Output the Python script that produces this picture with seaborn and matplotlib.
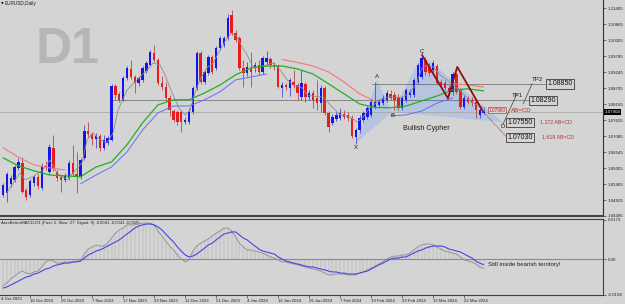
import numpy as np
import matplotlib
matplotlib.use("Agg")
import matplotlib.pyplot as plt
import seaborn as sns
from matplotlib.transforms import blended_transform_factory as btf

# ---------------- data (EURUSD daily) ----------------
opens = [1.0510,1.0517,1.0547,1.0561,1.0601,1.0618,1.0527,1.0510,1.0550,1.0571,
         1.0534,1.0608,1.0588,1.0669,1.0588,1.0571,1.0561,1.0567,1.0618,1.0581,
         1.0571,1.0635,1.0726,1.0716,1.0699,1.0709,1.0669,1.0685,1.0696,1.0878,
         1.0851,1.0831,1.0905,1.0935,1.0908,1.0888,1.0898,1.0928,1.0949,1.0989,
         1.0966,1.0888,1.0874,1.0837,1.0793,1.0790,1.0790,1.0756,1.0756,1.0790,
         1.0871,1.0989,1.0891,1.0922,1.0976,1.0939,1.1006,1.1016,1.1040,1.1117,
         1.1057,1.1040,1.0939,1.0922,1.0935,1.0939,1.0949,1.0925,1.0959,1.0969,
         1.0949,1.0945,1.0871,1.0881,1.0871,1.0891,1.0881,1.0841,1.0885,1.0841,
         1.0854,1.0837,1.0820,1.0871,1.0787,1.0753,1.0766,1.0770,1.0783,1.0780,
         1.0770,1.0706,1.0729,1.0763,1.0773,1.0780,1.0807,1.0814,1.0820,1.0831,
         1.0851,1.0847,1.0841,1.0804,1.0831,1.0847,1.0847,1.0891,1.0908,1.0966,
         1.0942,1.0932,1.0945,1.0891,1.0888,1.0871,1.0858,1.0918,1.0864,1.0807,
         1.0837,1.0831,1.0824,1.0780,1.0787]
highs = [1.0550,1.0588,1.0577,1.0611,1.0635,1.0638,1.0534,1.0564,1.0577,1.0581,
         1.0618,1.0625,1.0682,1.0712,1.0594,1.0577,1.0584,1.0628,1.0679,1.0655,
         1.0635,1.0746,1.0756,1.0722,1.0719,1.0716,1.0712,1.0709,1.0885,1.0885,
         1.0858,1.0912,1.0945,1.0966,1.0915,1.0912,1.0945,1.0962,1.0999,1.1016,
         1.0972,1.0912,1.0891,1.0847,1.0800,1.0797,1.0797,1.0773,1.0804,1.0878,
         1.0996,1.0996,1.0932,1.0982,1.0982,1.1013,1.1047,1.1047,1.1121,1.1134,
         1.1067,1.1047,1.0966,1.0959,1.0993,1.0959,1.0966,1.0979,1.0996,1.0976,
         1.0959,1.0952,1.0891,1.0888,1.0905,1.0932,1.0888,1.0932,1.0891,1.0864,
         1.0864,1.0898,1.0881,1.0878,1.0793,1.0783,1.0790,1.0804,1.0797,1.0790,
         1.0780,1.0736,1.0780,1.0793,1.0810,1.0831,1.0891,1.0834,1.0847,1.0864,
         1.0864,1.0858,1.0851,1.0844,1.0871,1.0868,1.0905,1.0955,1.0993,1.0976,
         1.0955,1.0966,1.0952,1.0901,1.0898,1.0881,1.0925,1.0925,1.0871,1.0847,
         1.0844,1.0841,1.0831,1.0804,1.0804]
lows = [1.0503,1.0486,1.0537,1.0554,1.0594,1.0517,1.0493,1.0503,1.0540,1.0530,
        1.0527,1.0594,1.0581,1.0591,1.0557,1.0520,1.0554,1.0561,1.0574,1.0517,
        1.0564,1.0628,1.0706,1.0679,1.0669,1.0658,1.0662,1.0679,1.0692,1.0834,
        1.0824,1.0827,1.0898,1.0901,1.0854,1.0878,1.0891,1.0922,1.0945,1.0959,
        1.0881,1.0864,1.0831,1.0777,1.0756,1.0746,1.0722,1.0750,1.0750,1.0783,
        1.0864,1.0885,1.0885,1.0915,1.0918,1.0932,1.0999,1.1009,1.1033,1.1050,
        1.1026,1.0932,1.0874,1.0912,1.0874,1.0925,1.0915,1.0918,1.0949,1.0939,
        1.0932,1.0871,1.0841,1.0864,1.0844,1.0871,1.0831,1.0831,1.0824,1.0831,
        1.0804,1.0797,1.0790,1.0780,1.0722,1.0746,1.0760,1.0763,1.0766,1.0760,
        1.0702,1.0682,1.0719,1.0756,1.0766,1.0773,1.0800,1.0807,1.0814,1.0824,
        1.0831,1.0797,1.0797,1.0797,1.0824,1.0841,1.0841,1.0885,1.0901,1.0915,
        1.0912,1.0922,1.0881,1.0871,1.0864,1.0847,1.0847,1.0851,1.0800,1.0800,
        1.0817,1.0810,1.0770,1.0770,1.0783]
closes = [1.0544,1.0581,1.0567,1.0604,1.0621,1.0520,1.0503,1.0557,1.0571,1.0540,
          1.0608,1.0604,1.0672,1.0598,1.0567,1.0561,1.0574,1.0618,1.0581,1.0574,
          1.0628,1.0726,1.0716,1.0699,1.0709,1.0669,1.0696,1.0702,1.0878,1.0847,
          1.0831,1.0905,1.0939,1.0908,1.0888,1.0905,1.0939,1.0955,1.0993,1.0966,
          1.0888,1.0874,1.0837,1.0797,1.0763,1.0756,1.0756,1.0763,1.0790,1.0871,
          1.0989,1.0891,1.0925,1.0976,1.0925,1.1006,1.1040,1.1040,1.1107,1.1057,
          1.1033,1.0939,1.0922,1.0942,1.0925,1.0949,1.0925,1.0972,1.0972,1.0949,
          1.0945,1.0874,1.0881,1.0874,1.0898,1.0881,1.0854,1.0888,1.0841,1.0854,
          1.0831,1.0820,1.0871,1.0787,1.0739,1.0773,1.0780,1.0787,1.0773,1.0770,
          1.0709,1.0729,1.0770,1.0787,1.0804,1.0824,1.0824,1.0824,1.0837,1.0854,
          1.0837,1.0831,1.0804,1.0837,1.0864,1.0858,1.0898,1.0949,1.0972,1.0925,
          1.0922,1.0955,1.0888,1.0881,1.0871,1.0858,1.0918,1.0858,1.0807,1.0837,
          1.0824,1.0820,1.0797,1.0797,1.0790]

# moving averages
gray_ma_idx = [1.0,4.4,5.7,7.7,10.3,12.1,13.9,16.5,20.4,21.7,23.2,25.0,26.8,28.4,29.7,
               32.0,34.6,37.2,38.7,40.5,41.8,43.1,44.4,45.7,47.0,48.3,49.5,50.8,52.6,54.2,
               56.0,57.8,59.1,60.4,61.7,63.0,64.5,66.3,68.1,69.7,71.5,73.3,74.8,77.2,78.5,
               81.0,82.6,84.9,87.0,89.5,91.4,92.9,94.7,97.3,99.9,102.5,105.0,106.8,108.1,
               109.4,111.0,112.8,114.6,116.1,117.9,119.7,121.3,123.1,124.4]
gray_ma = [1.0517,1.0584,1.0561,1.0571,1.0594,1.0628,1.0584,1.0561,1.0618,1.0696,
           1.0719,1.0696,1.0685,1.0719,1.0797,1.0864,1.0898,1.0932,1.0955,1.0949,
           1.0915,1.0871,1.0831,1.0797,1.0780,1.0797,1.0854,1.0898,1.0939,1.0955,
           1.0999,1.1040,1.1057,1.1043,1.1009,1.0982,1.0942,1.0942,1.0949,1.0955,
           1.0932,1.0898,1.0881,1.0871,1.0847,1.0841,1.0841,1.0807,1.0780,1.0773,
           1.0756,1.0773,1.0804,1.0831,1.0841,1.0837,1.0854,1.0891,1.0939,1.0949,
           1.0942,1.0915,1.0898,1.0881,1.0864,1.0837,1.0820,1.0807,1.0804]
ma_idx = list(range(0, 125, 4))
nan = float("nan")
green_ma = [1.0635,1.0608,1.0591,1.0577,1.0574,1.0571,1.0604,1.0621,1.0679,1.0753,
            1.0814,1.0831,1.0831,1.0854,1.0881,1.0915,1.0939,1.0945,1.0945,1.0935,
            1.0918,1.0885,1.0851,1.0817,1.0805,1.0804,1.0810,1.0827,1.0844,1.0864,
            1.0868,1.0861]
red_ma = [1.0669,1.0637,1.0611,1.0601,1.0594,nan,nan,nan,nan,nan,
          nan,nan,nan,nan,nan,nan,nan,nan,1.0967,1.0957,
          1.0945,1.0925,1.0891,1.0851,1.0827,nan,nan,nan,nan,1.0885,
          1.0881,1.0874]
blue_ma = [nan,nan,nan,nan,nan,1.0547,1.0577,1.0604,1.0655,1.0729,
           1.0787,1.0810,1.0810,1.0831,1.0858,1.0898,1.0908,1.0918,nan,nan,
           nan,nan,nan,nan,nan,1.0777,1.0780,1.0793,1.0820,1.0837,
           nan,nan]

# MACD (per bar)
macd_main = [-0.0119,-0.0106,-0.0088,-0.0075,-0.0062,-0.0053,-0.0062,-0.0066,-0.0057,-0.0053,
             -0.0035,-0.0013,-0.0004,-0.0009,-0.0018,-0.0018,-0.0013,-0.0013,-0.0013,-0.0009,
             -0.0009,0.0022,0.0044,0.0053,0.0062,0.0057,0.0057,0.0070,0.0092,0.0114,
             0.0128,0.0136,0.0150,0.0150,0.0150,0.0154,0.0158,0.0158,0.0158,0.0150,
             0.0123,0.0101,0.0079,0.0057,0.0040,0.0018,0.0000,-0.0013,-0.0004,0.0035,
             0.0057,0.0070,0.0079,0.0088,0.0101,0.0114,0.0123,0.0136,0.0136,0.0123,
             0.0097,0.0070,0.0053,0.0040,0.0040,0.0035,0.0031,0.0026,0.0018,0.0009,
             0.0004,-0.0004,-0.0013,-0.0013,-0.0018,-0.0022,-0.0026,-0.0031,-0.0035,-0.0040,
             -0.0044,-0.0048,-0.0053,-0.0062,-0.0070,-0.0070,-0.0066,-0.0066,-0.0066,-0.0070,
             -0.0070,-0.0070,-0.0062,-0.0057,-0.0048,-0.0040,-0.0031,-0.0022,-0.0013,0.0000,
             0.0009,0.0013,0.0013,0.0018,0.0018,0.0026,0.0040,0.0053,0.0062,0.0066,
             0.0066,0.0062,0.0053,0.0044,0.0035,0.0031,0.0026,0.0022,0.0009,-0.0004,
             -0.0009,-0.0013,-0.0022,-0.0036,-0.0041]
macd_signal = [-0.0128,-0.0123,-0.0114,-0.0106,-0.0097,-0.0088,-0.0079,-0.0075,-0.0066,-0.0062,
               -0.0053,-0.0044,-0.0040,-0.0031,-0.0026,-0.0022,-0.0018,-0.0018,-0.0013,-0.0013,
               -0.0009,0.0004,0.0018,0.0026,0.0035,0.0040,0.0048,0.0057,0.0066,0.0075,
               0.0084,0.0097,0.0110,0.0123,0.0136,0.0145,0.0150,0.0154,0.0154,0.0150,
               0.0141,0.0128,0.0110,0.0092,0.0075,0.0053,0.0035,0.0018,0.0009,0.0013,
               0.0022,0.0035,0.0048,0.0062,0.0070,0.0084,0.0097,0.0110,0.0114,0.0119,
               0.0119,0.0106,0.0092,0.0084,0.0070,0.0057,0.0044,0.0035,0.0031,0.0026,
               0.0022,0.0009,0.0000,-0.0009,-0.0013,-0.0018,-0.0022,-0.0026,-0.0031,-0.0035,
               -0.0035,-0.0040,-0.0044,-0.0048,-0.0053,-0.0057,-0.0057,-0.0062,-0.0062,-0.0066,
               -0.0066,-0.0066,-0.0062,-0.0057,-0.0053,-0.0044,-0.0035,-0.0026,-0.0018,-0.0009,
               0.0000,0.0004,0.0004,0.0009,0.0009,0.0018,0.0026,0.0035,0.0040,0.0048,
               0.0053,0.0057,0.0057,0.0057,0.0053,0.0044,0.0040,0.0035,0.0031,0.0022,
               0.0013,0.0004,-0.0009,-0.0018,-0.0025]

# Cypher pattern & targets
cypher_names = ["X", "A", "B", "C", "D"]
cypher_idx = [91.1, 96.5, 100.4, 108.1, 129.0]
cypher_px = [1.0685, 1.0898, 1.0790, 1.0982, 1.0755]
zigzag_idx = [108.1, 114.8, 117.2, 123.9]
zigzag_px = [1.0982, 1.0836, 1.0942, 1.0790]
zz_dot_idx = [123.9, 130.1]
zz_dot_px = [1.0790, 1.0703]
tp_levels = [1.0829, 1.0885]
tp_level_from = [28.4, 95.2]
tp_level_to = [136.0, 140.4]
tp1_line_idx = [129.0, 132.6]
tp1_line_px = [1.0749, 1.0851]
tp2_line_idx = [134.2, 136.5]
tp2_line_px = [1.0817, 1.0885]
current_price = 1.0790

price_ticks = [1.11405, 1.10865, 1.10325, 1.09785, 1.09245, 1.08705, 1.08165,
               1.07625, 1.07085, 1.06545, 1.06005, 1.05465, 1.04925, 1.04385]
date_idx = [7, 15, 23, 31, 39, 47, 55, 63, 71, 79, 87, 95, 103, 111, 119]
date_labels = ["16 Oct 2023", "26 Oct 2023", "7 Nov 2023", "17 Nov 2023", "29 Nov 2023",
               "11 Dec 2023", "21 Dec 2023", "4 Jan 2024", "16 Jan 2024", "26 Jan 2024",
               "7 Feb 2024", "19 Feb 2024", "29 Feb 2024", "12 Mar 2024", "22 Mar 2024"]

# ---------------- drawing ----------------
BG = "#d4d4d4"
sns.set_style("white")
plt.rcParams["font.family"] = ["Liberation Sans", "DejaVu Sans"]

fig = plt.figure(figsize=(6.25, 3.04), dpi=100, facecolor=BG)
ax = fig.add_axes([0, 0.2895, 0.9648, 0.7105], facecolor=BG)
ax2 = fig.add_axes([0, 0.0296, 0.9648, 0.2500], facecolor=BG)

XL = (-0.77, 154.8)


def seg_plot(a, xs, ys, **kw):
    xs = np.asarray(xs, float)
    ys = np.asarray(ys, float)
    ok = ~np.isnan(ys)
    cuts = np.where(np.diff(ok.astype(int)) != 0)[0] + 1
    for r in np.split(np.arange(len(ys)), cuts):
        if ok[r[0]] and len(r) > 1:
            sns.lineplot(x=xs[r], y=ys[r], ax=a, estimator=None, sort=False,
                         legend=False, **kw)


o = np.array(opens); h = np.array(highs); l = np.array(lows); c = np.array(closes)
idx = np.arange(len(o))
bull = c >= o
body = np.maximum(np.abs(c - o), 0.00012)
bottom = np.minimum(o, c)

# pattern shading
ax.fill(cypher_idx[:3], cypher_px[:3], color="#a8c0e4", alpha=0.7, lw=0, zorder=1)
ax.fill(cypher_idx[2:], cypher_px[2:], color="#a8c0e4", alpha=0.7, lw=0, zorder=1)

# current price line and target levels
ax.axhline(current_price, color="#a9a9a9", lw=0.6, zorder=1)
for lev, a0, a1 in zip(tp_levels, tp_level_from, tp_level_to):
    ax.hlines(lev, a0, a1, colors="#202020", linestyles=(0, (1.2, 1.2)), lw=0.6, zorder=2)

# candles
ax.vlines(idx[bull], l[bull], h[bull], color="#4a4ad0", lw=0.6, zorder=3)
ax.vlines(idx[~bull], l[~bull], h[~bull], color="#b84848", lw=0.6, zorder=3)
ax.bar(idx[bull], body[bull], bottom=bottom[bull], width=0.62, color="#1414ee", lw=0, zorder=4)
ax.bar(idx[~bull], body[~bull], bottom=bottom[~bull], width=0.62, color="#e81c1c", lw=0, zorder=4)

# moving averages
seg_plot(ax, gray_ma_idx, gray_ma, color="#8e8e8e", linewidth=0.6, zorder=5)
seg_plot(ax, ma_idx, red_ma, color="#f07a7a", linewidth=0.8, zorder=5)
seg_plot(ax, ma_idx, blue_ma, color="#6a6aff", linewidth=0.7, zorder=5)
seg_plot(ax, ma_idx, green_ma, color="#22b022", linewidth=0.9, zorder=5)

# cypher zigzag and helper lines
sns.lineplot(x=zigzag_idx, y=zigzag_px, ax=ax, estimator=None, sort=False, legend=False,
             color="#8b1010", linewidth=1.3, zorder=6)
ax.plot(zz_dot_idx, zz_dot_px, color="#8b3030", lw=0.6, ls=(0, (1, 1)), zorder=6)
ax.plot(tp1_line_idx, tp1_line_px, color="#404040", lw=0.5, zorder=6)
ax.plot(tp2_line_idx, tp2_line_px, color="#404040", lw=0.5, zorder=6)

for name, xi, yi, dy in zip(cypher_names, cypher_idx, cypher_px,
                            [-0.0006, 0.0004, -0.0003, 0.0004, -0.0005]):
    ax.text(xi, yi + dy, name, fontsize=4.3, color="#202020", ha="center",
            va="bottom" if dy > 0 else "top", zorder=7)
ax.text(109.2, 1.0733, "Bullish Cypher", fontsize=5.2, color="#202020", ha="center",
        va="center", zorder=7)

box = dict(boxstyle="square,pad=0.18", fc=BG, ec="#3a3a3a", lw=0.6)
for xi, yi, s in [(140.4, 1.0885, "1.08850"), (136.0, 1.0829, "1.08290"),
                  (130.1, 1.0755, "1.07550"), (130.1, 1.0703, "1.07030")]:
    ax.text(xi, yi, s, fontsize=5.0, color="#101010", ha="left", va="center",
            bbox=box, zorder=7)
ax.text(125.2, 1.0796, "1.07960", fontsize=3.4, color="#c02828", ha="left", va="center",
        bbox=dict(boxstyle="square,pad=0.15", fc=BG, ec="#c04040", lw=0.5), zorder=7)
ax.text(131.1, 1.0794, "AB=CD", fontsize=4.4, color="#b02828", ha="left", va="center", zorder=7)
ax.text(138.6, 1.0754, "1.272 AB=CD", fontsize=3.8, color="#a83a3a", ha="left", va="center", zorder=7)
ax.text(139.1, 1.0703, "1.618 AB=CD", fontsize=3.8, color="#a83a3a", ha="left", va="center", zorder=7)
ax.text(131.4, 1.0844, "TP1", fontsize=4.4, color="#202020", ha="left", va="center", zorder=7)
ax.text(136.5, 1.0898, "TP2", fontsize=4.4, color="#202020", ha="left", va="center", zorder=7)

ax.text(68 / 603, 1 - 50 / 216, "D1", transform=ax.transAxes, fontsize=36, weight="bold",
        color="#b6b6b6", ha="center", va="center", zorder=0.5)

ax.set_xlim(*XL)
ax.set_ylim(1.0439, 1.1168)
ax.yaxis.tick_right()
ax.set_yticks(price_ticks)
ax.set_yticklabels([f"{v:.5f}" for v in price_ticks])
ax.tick_params(axis="y", labelsize=3.2, length=2, width=0.4, pad=1.5, colors="#202020", right=True)
ax.tick_params(axis="x", bottom=False, labelbottom=False)
for s in ["left", "top"]:
    ax.spines[s].set_visible(False)
ax.spines["right"].set_color("#303030"); ax.spines["right"].set_linewidth(0.8)
ax.spines["bottom"].set_color("#454545"); ax.spines["bottom"].set_linewidth(1.5)
ax.set_xlabel(""); ax.set_ylabel("")
ax.text(1.003, current_price, "1.07904", transform=btf(ax.transAxes, ax.transData),
        fontsize=3.2, color="white", ha="left", va="center", clip_on=False,
        bbox=dict(boxstyle="square,pad=0.15", fc="black", ec="none"), zorder=8)

# ---------------- MACD panel ----------------
mm = np.array(macd_main)
ax2.vlines(idx, 0, mm, color="#ababab", lw=0.35, zorder=1)
ax2.axhline(0, color="#8a8a8a", lw=0.8, zorder=2)
sns.lineplot(x=idx, y=mm, ax=ax2, estimator=None, sort=False, legend=False,
             color="#959595", linewidth=0.7, zorder=3)
sns.lineplot(x=idx, y=np.array(macd_signal), ax=ax2, estimator=None, sort=False,
             legend=False, color="#4646e6", linewidth=0.8, zorder=4)
ax2.text(125.2, -0.0022, "Still inside bearish territory!", fontsize=4.3, color="#202020",
         ha="left", va="center")
ax2.set_xlim(*XL)
ax2.set_ylim(-0.01584, 0.0176)
ax2.yaxis.tick_right()
ax2.set_yticks([0.0173, 0.0, -0.0158])
ax2.set_yticklabels(["0.0173", "0.00", "-0.0158"])
ax2.tick_params(axis="y", labelsize=3.2, length=2, width=0.4, pad=1.5, colors="#202020", right=True)
ax2.set_xticks(date_idx)
ax2.set_xticklabels(date_labels, ha="left")
ax2.tick_params(axis="x", labelsize=3.1, length=2, width=0.4, pad=1.2, colors="#202020", bottom=True)
ax2.spines["left"].set_visible(False)
for s in ["top", "bottom", "right"]:
    ax2.spines[s].set_color("#404040")
    ax2.spines[s].set_linewidth(0.8)
ax2.set_xlabel(""); ax2.set_ylabel("")

fig.text(0.6 / 625, 1 - 297 / 304, "4 Oct 2023", fontsize=3.1, color="#202020", ha="left", va="top")
fig.text(1 / 625, 1 - 3.5 / 304, "\u25BC", fontsize=2.5, color="black", ha="left", va="center",
         family="DejaVu Sans")
fig.text(5 / 625, 1 - 3.5 / 304, "EURUSD,Daily", fontsize=3.4, color="#202020", ha="left", va="center")
fig.text(1 / 625, 1 - 223 / 304,
         "AtasBetterMACD-D1 (Fast: 5, Slow: 27, Signal: 9) -0.0041 -0.0041 -0.0025",
         fontsize=3.1, color="#202020", ha="left", va="center")

fig.savefig("out.png", dpi=100, facecolor=BG)
